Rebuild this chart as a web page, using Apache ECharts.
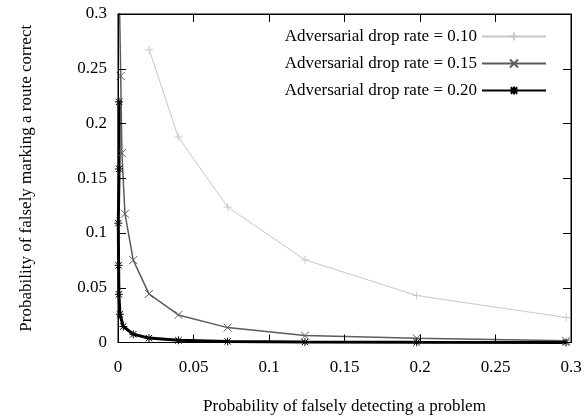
<!DOCTYPE html>
<html><head><meta charset="utf-8">
<script src="https://cdn.jsdelivr.net/npm/echarts@6/dist/echarts.min.js"></script>
<style>html,body{margin:0;padding:0;background:#fff}#c{width:588px;height:418px}</style>
</head><body><div id="c"></div>
<script>
// Data
const seriesNames = ['Adversarial drop rate = 0.10','Adversarial drop rate = 0.15','Adversarial drop rate = 0.20'];
const x10 = [0.0207, 0.0399, 0.0726, 0.1238, 0.1978, 0.2967];
const y10 = [0.2673, 0.1877, 0.1237, 0.0755, 0.0429, 0.0228];
const x15 = [0.0006, 0.0018, 0.0026, 0.0046, 0.0101, 0.0205, 0.0400, 0.0726, 0.1238, 0.1978, 0.2967];
const y15 = [0.3400, 0.2433, 0.1730, 0.1176, 0.0752, 0.0444, 0.0252, 0.0136, 0.0063, 0.0039, 0.0015];
const x20 = [0.0007, 0.0007, 0.0002, 0.0004, 0.0006, 0.0013, 0.0035, 0.0101, 0.0205, 0.0400, 0.0726, 0.1238, 0.1978, 0.2967];
const y20 = [0.2198, 0.1585, 0.1090, 0.0705, 0.0440, 0.0258, 0.0146, 0.0075, 0.0040, 0.0020, 0.0010, 0.0004, 0.0002, 0.0001];
const axisMin = 0, axisMax = 0.3, axisStep = 0.05;

const zip = (xs, ys) => xs.map((x, i) => [x, ys[i]]);
const FONT = 'Liberation Serif';
const FS = 17;
const fmt = v => String(+v.toFixed(2));

function axis(position, withLabel, extra) {
  const a = {
    type: 'value', position, min: axisMin, max: axisMax, interval: axisStep, z: 10,
    axisLine: { show: true, onZero: false, lineStyle: { color: '#000', width: 1 } },
    axisTick: { show: true, inside: true, length: 8, lineStyle: { color: '#000', width: 1 } },
    splitLine: { show: false },
    axisLabel: withLabel
      ? { show: true, fontFamily: FONT, fontSize: FS, color: '#000', formatter: v => fmt(v) }
      : { show: false },
  };
  return Object.assign(a, extra || {});
}

const plus = 'path://M5,0 L5,10 M0,5 L10,5';
const cross = 'path://M0,0 L10,10 M10,0 L0,10';
const star = 'path://M5,0 L5,10 M0,5 L10,5 M1,1 L9,9 M9,1 L1,9';

function mk(name, data, color, width, symbol) {
  return {
    name, type: 'line', data, xAxisIndex: 0, yAxisIndex: 0,
    symbol, symbolSize: 8, showSymbol: true, clip: true,
    lineStyle: { color, width },
    itemStyle: { color, borderColor: color, borderWidth: 1 },
    emphasis: { disabled: true },
  };
}

const chart = echarts.init(document.getElementById('c'), null, { renderer: 'canvas' });
const xb = axis('bottom', true, {
  name: 'Probability of falsely detecting a problem', nameLocation: 'middle', nameGap: 56,
  nameTextStyle: { fontFamily: FONT, fontSize: FS, color: '#000' },
});
xb.axisLabel.margin = 17;
const yl = axis('left', true, {
  name: 'Probability of falsely marking a route correct', nameLocation: 'middle', nameGap: 83,
  nameTextStyle: { fontFamily: FONT, fontSize: FS, color: '#000' },
});
yl.axisLabel.margin = 11;

chart.setOption({
  animation: false,
  backgroundColor: '#fff',
  grid: { left: 118, right: 17, top: 14, bottom: 75.5, outerBoundsMode: 'none', containLabel: false,
          show: true, z: 10, backgroundColor: 'transparent', borderColor: '#000', borderWidth: 1 },
  legend: {
    data: seriesNames, orient: 'vertical', align: 'right',
    right: 36, top: 23, itemWidth: 64, itemHeight: 10, itemGap: 10,
    textStyle: { fontFamily: FONT, fontSize: FS, color: '#000' },
    selectedMode: false,
  },
  xAxis: [xb, axis('top', false)],
  yAxis: [yl, axis('right', false)],
  series: [
    mk(seriesNames[0], zip(x10, y10), '#c8c8c8', 1, plus),
    mk(seriesNames[1], zip(x15, y15), '#5c5c5c', 1.5, cross),
    mk(seriesNames[2], zip(x20, y20), '#000000', 3, star),
  ],
});
</script></body></html>
